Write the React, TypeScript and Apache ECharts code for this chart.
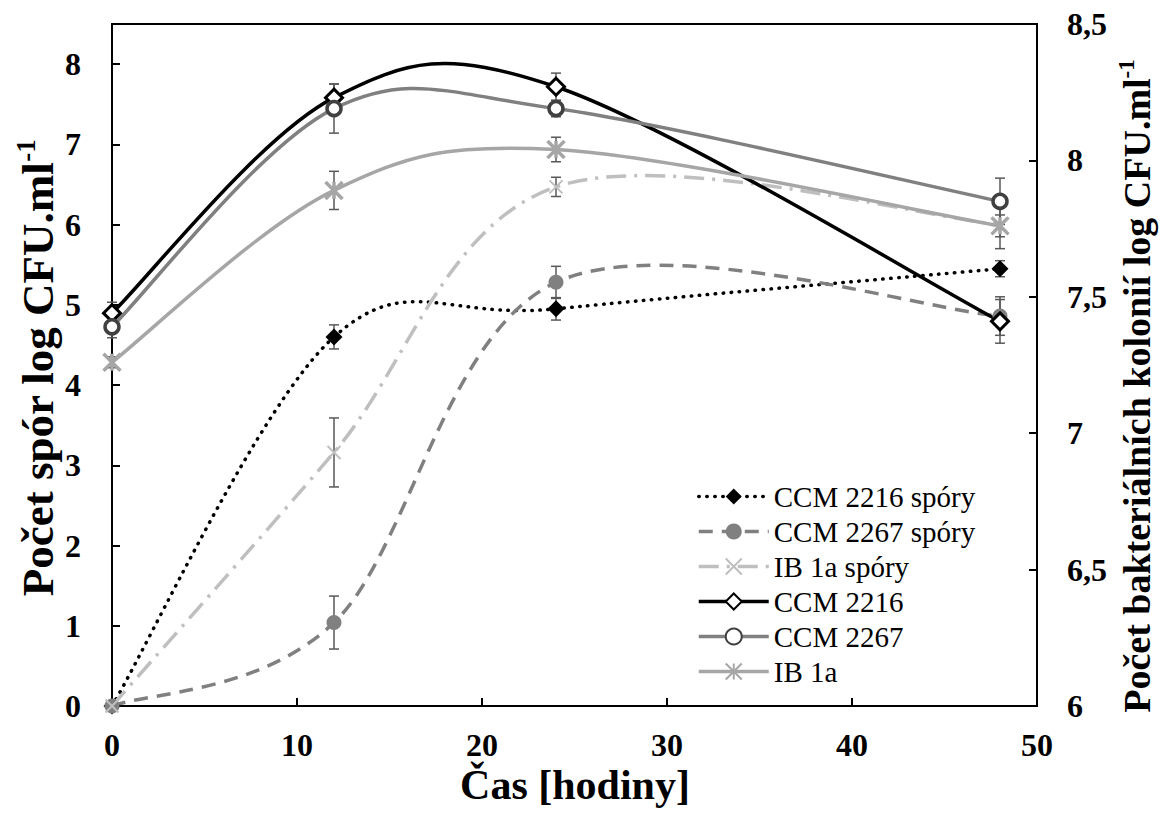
import React, { useEffect, useRef } from "react";
import * as echarts from "echarts";

// ---- data ----
const hours = [0, 12, 24, 48];
const xTicks = [0, 10, 20, 30, 40, 50];

const ccm2216Spory = [0, 4.6, 4.95, 5.45];
const ccm2216SporyErr = [0, 0.15, 0.14, 0.1];
const ccm2267Spory = [0, 1.04, 5.28, 4.86];
const ccm2267SporyErr = [0, 0.33, 0.2, 0.24];
const ib1aSpory = [0, 3.16, 6.47, 6.0];
const ib1aSporyErr = [0, 0.43, 0.12, 0.3];

const ccm2216 = [7.44, 8.23, 8.27, 7.41];
const ccm2216Err = [0.04, 0.05, 0.05, 0.08];
const ccm2267 = [7.39, 8.19, 8.19, 7.85];
const ccm2267Err = [0.04, 0.09, 0.03, 0.085];
const ib1a = [7.26, 7.89, 8.04, 7.76];
const ib1aErr = [0.02, 0.07, 0.045, 0.04];

const names = [
  "CCM 2216 spóry",
  "CCM 2267 spóry",
  "IB 1a spóry",
  "CCM 2216",
  "CCM 2267",
  "IB 1a",
];

const FONT = "'Liberation Serif', 'Times New Roman', 'DejaVu Serif', serif";

const xSym = "path://M0,0L10,10M10,0L0,10";
const starSym = "path://M0,0L10,10M10,0L0,10M5,0L5,10";

// line styles (stroke, width, dash, cap)
const lineStyles: any[] = [
  { color: "#000000", width: 3.5, type: [0.5, 7.5], cap: "round" },
  { color: "#808080", width: 3.5, type: [14, 9], cap: "butt" },
  { color: "#bfbfbf", width: 3.5, type: [20, 8, 3, 8], cap: "butt" },
  { color: "#000000", width: 3.5, type: "solid", cap: "butt" },
  { color: "#808080", width: 3.5, type: "solid", cap: "butt" },
  { color: "#a6a6a6", width: 3.5, type: "solid", cap: "butt" },
];

function pairs(vals: number[]) {
  return hours.map((h, i) => [h, vals[i]]);
}
function errData(vals: number[], errs: number[]) {
  return hours
    .map((h, i) => [h, vals[i], errs[i]])
    .filter((d) => d[2] > 0);
}

function errSeries(vals: number[], errs: number[], yAxisIndex: number) {
  return {
    type: "custom",
    xAxisIndex: 0,
    yAxisIndex,
    z: 1,
    silent: true,
    data: errData(vals, errs),
    renderItem: (params: any, api: any) => {
      const x = api.value(0);
      const y = api.value(1);
      const e = api.value(2);
      const top = api.coord([x, y + e]);
      const bot = api.coord([x, y - e]);
      const w = 5;
      const st = { stroke: "#595959", lineWidth: 1.5 };
      return {
        type: "group",
        children: [
          { type: "line", shape: { x1: top[0], y1: top[1], x2: bot[0], y2: bot[1] }, style: st },
          { type: "line", shape: { x1: top[0] - w, y1: top[1], x2: top[0] + w, y2: top[1] }, style: st },
          { type: "line", shape: { x1: bot[0] - w, y1: bot[1], x2: bot[0] + w, y2: bot[1] }, style: st },
        ],
      };
    },
  };
}

// Excel-like smoothed curve (Catmull-Rom, tension 1/6) through points mapped by the axes
function curveSeries(vals: number[], yAxisIndex: number, ls: any) {
  return {
    type: "custom",
    xAxisIndex: 0,
    yAxisIndex,
    z: 2,
    silent: true,
    clip: false,
    data: pairs(vals),
    renderItem: (params: any, api: any) => {
      if (params.dataIndex !== 0) return null;
      const pts = hours.map((h, i) => api.coord([h, vals[i]]));
      let d = `M${pts[0][0]},${pts[0][1]}`;
      for (let i = 0; i < pts.length - 1; i++) {
        const p0 = pts[Math.max(i - 1, 0)];
        const p1 = pts[i];
        const p2 = pts[i + 1];
        const p3 = pts[Math.min(i + 2, pts.length - 1)];
        const c1x = p1[0] + (p2[0] - p0[0]) / 6;
        const c1y = p1[1] + (p2[1] - p0[1]) / 6;
        const c2x = p2[0] - (p3[0] - p1[0]) / 6;
        const c2y = p2[1] - (p3[1] - p1[1]) / 6;
        d += ` C${c1x},${c1y} ${c2x},${c2y} ${p2[0]},${p2[1]}`;
      }
      return {
        type: "path",
        shape: { pathData: d },
        style: {
          fill: "none",
          stroke: ls.color,
          lineWidth: ls.width,
          lineDash: Array.isArray(ls.type) ? ls.type : null,
          lineCap: ls.cap,
        },
      };
    },
  };
}

function markerSeries(i: number, vals: number[], yAxisIndex: number, symbol: string, size: number, itemStyle: any) {
  return {
    name: names[i],
    type: "line",
    yAxisIndex,
    z: 4,
    data: pairs(vals),
    symbol,
    symbolSize: size,
    lineStyle: { opacity: 0, color: lineStyles[i].color, width: lineStyles[i].width },
    itemStyle,
    emphasis: { disabled: true },
  };
}

export default function App() {
  const ref = useRef<HTMLDivElement>(null);

  useEffect(() => {
    document.body.style.margin = "0";
    const chart = echarts.init(ref.current!, undefined, { renderer: "svg" });
    const titleRich = (size: number) => ({
      a: { fontFamily: FONT, fontWeight: "bold", fontSize: size, fill: "#000", lineHeight: size + 6 },
      b: { fontFamily: FONT, fontWeight: "bold", fontSize: Math.round(size * 0.6), fill: "#000", verticalAlign: "top", lineHeight: size + 6 },
    });
    const axisLbl = {
      color: "#000",
      fontFamily: FONT,
      fontWeight: "bold",
      fontSize: 32,
    };
    const option: any = {
      animation: false,
      backgroundColor: "#fff",
      textStyle: { fontFamily: FONT },
      grid: {
        left: 112,
        right: 124,
        top: 24,
        bottom: 110,
        show: true,
        borderColor: "#000",
        borderWidth: 2,
      },
      legend: {
        data: names.map((n, i) => ({
          name: n,
          lineStyle: {
            color: lineStyles[i].color,
            width: lineStyles[i].width,
            type: lineStyles[i].type,
            cap: lineStyles[i].cap,
            opacity: 1,
          },
        })),
        orient: "vertical",
        left: 692,
        top: 477,
        itemWidth: 70,
        itemHeight: 20,
        itemGap: 6,
        selectedMode: false,
        textStyle: { fontFamily: FONT, fontSize: 29, color: "#000" },
      },
      xAxis: {
        type: "value",
        min: xTicks[0],
        max: xTicks[xTicks.length - 1],
        interval: 10,
        axisLine: { lineStyle: { color: "#000", width: 2 } },
        axisTick: { inside: true, length: 8, lineStyle: { color: "#000", width: 2 } },
        splitLine: { show: false },
        axisLabel: { ...axisLbl, margin: 23 },
      },
      yAxis: [
        {
          type: "value",
          min: 0,
          max: 8.5,
          interval: 1,
          axisLine: { show: true, lineStyle: { color: "#000", width: 2 } },
          axisTick: { show: true, inside: true, length: 8, lineStyle: { color: "#000", width: 2 } },
          splitLine: { show: false },
          axisLabel: {
            ...axisLbl,
            margin: 31,
            formatter: (v: number) => (v > 8 ? "" : String(v)),
          },
        },
        {
          type: "value",
          position: "right",
          min: 6,
          max: 8.5,
          interval: 0.5,
          axisLine: { show: true, lineStyle: { color: "#000", width: 2 } },
          axisTick: { show: true, inside: true, length: 8, lineStyle: { color: "#000", width: 2 } },
          splitLine: { show: false },
          axisLabel: {
            ...axisLbl,
            margin: 30,
            formatter: (v: number) => String(v).replace(".", ","),
          },
        },
      ],
      graphic: [
        {
          type: "text",
          x: 575,
          y: 785,
          style: {
            text: "Čas [hodiny]",
            fontFamily: FONT,
            fontWeight: "bold",
            fontSize: 42,
            fill: "#000",
            align: "center",
            verticalAlign: "middle",
          },
        },
        {
          type: "text",
          x: 38,
          y: 368,
          rotation: Math.PI / 2,
          style: {
            text: "{a|Počet spór log CFU.ml}{b|-1}",
            align: "center",
            verticalAlign: "middle",
            rich: titleRich(45),
          },
        },
        {
          type: "text",
          x: 1137,
          y: 386,
          rotation: Math.PI / 2,
          style: {
            text: "{a|Počet bakteriálních kolonií log CFU.ml}{b|-1}",
            align: "center",
            verticalAlign: "middle",
            rich: titleRich(38),
          },
        },
      ],
      series: [
        errSeries(ccm2216Spory, ccm2216SporyErr, 0),
        errSeries(ccm2267Spory, ccm2267SporyErr, 0),
        errSeries(ib1aSpory, ib1aSporyErr, 0),
        errSeries(ccm2216, ccm2216Err, 1),
        errSeries(ccm2267, ccm2267Err, 1),
        errSeries(ib1a, ib1aErr, 1),
        curveSeries(ccm2216Spory, 0, lineStyles[0]),
        curveSeries(ccm2267Spory, 0, lineStyles[1]),
        curveSeries(ib1aSpory, 0, lineStyles[2]),
        curveSeries(ccm2216, 1, lineStyles[3]),
        curveSeries(ccm2267, 1, lineStyles[4]),
        curveSeries(ib1a, 1, lineStyles[5]),
        markerSeries(0, ccm2216Spory, 0, "diamond", 17, { color: "#000" }),
        markerSeries(1, ccm2267Spory, 0, "circle", 15, { color: "#808080" }),
        markerSeries(2, ib1aSpory, 0, xSym, 13, { color: "none", borderColor: "#bfbfbf", borderWidth: 2 }),
        markerSeries(3, ccm2216, 1, "diamond", 17, { color: "#fff", borderColor: "#000", borderWidth: 3 }),
        markerSeries(4, ccm2267, 1, "circle", 14, { color: "#fff", borderColor: "#404040", borderWidth: 3.5 }),
        markerSeries(5, ib1a, 1, starSym, 17, { color: "none", borderColor: "#a6a6a6", borderWidth: 3.5 }),
      ],
    };
    chart.setOption(option);
    return () => chart.dispose();
  }, []);

  return <div ref={ref} style={{ width: 1161, height: 816 }} />;
}
